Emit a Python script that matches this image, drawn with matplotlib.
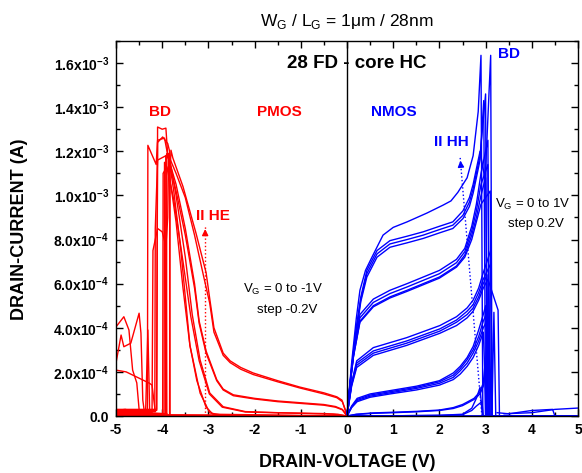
import numpy as np
import matplotlib
matplotlib.use("Agg")
import matplotlib.pyplot as plt
from matplotlib.ticker import MultipleLocator

plt.rcParams['font.family'] = ['Liberation Sans', 'DejaVu Sans']
plt.rcParams['axes.unicode_minus'] = False
plt.rcParams['mathtext.fontset'] = 'custom'
plt.rcParams['mathtext.rm'] = 'Liberation Sans'
plt.rcParams['mathtext.bf'] = 'Liberation Sans:bold'

RED = '#ff0000'
BLUE = '#0000ff'

# ---- NMOS curves (V in volt, I in 1e-4 A) ----
# each curve: drain voltages / currents, tail after breakdown included
nmos_v = [
    # VG = 1.0
    [0, 0.1, 0.2, 0.28, 0.4, 0.54, 0.78, 1.0, 1.3, 1.73, 2.08, 2.25, 2.4, 2.6, 2.73, 2.84, 2.90, 2.94, 5.0],
    [0, 0.1, 0.2, 0.3, 0.43, 0.65, 0.93, 1.3, 1.65, 2.0, 2.29, 2.51, 2.65, 2.73, 2.80, 2.88, 2.99, 3.11, 3.14, 5.0],
    [0, 0.1, 0.2, 0.3, 0.43, 0.65, 0.93, 1.3, 1.65, 2.0, 2.29, 2.51, 2.65, 2.73, 2.80, 2.88, 3.00, 3.03, 5.0],
    [0, 0.1, 0.2, 0.3, 0.43, 0.65, 0.93, 1.3, 1.65, 2.0, 2.29, 2.51, 2.65, 2.73, 2.80, 2.88, 2.96, 3.00, 5.0],
    # VG = 0.8
    [0, 0.07, 0.14, 0.28, 0.57, 0.93, 1.3, 1.65, 2.0, 2.37, 2.55, 2.7, 2.8, 2.9, 3.05, 3.08, 5.0],
    [0, 0.07, 0.14, 0.28, 0.57, 0.93, 1.3, 1.65, 2.0, 2.37, 2.55, 2.7, 2.8, 2.9, 3.05, 3.10, 5.0],
    [0, 0.07, 0.14, 0.28, 0.57, 0.93, 1.3, 1.65, 2.0, 2.37, 2.55, 2.7, 2.8, 2.9, 3.00, 3.06, 5.0],
    [0, 0.07, 0.14, 0.28, 0.57, 0.93, 1.3, 1.65, 2.0, 2.37, 2.55, 2.7, 2.8, 2.9, 3.10, 3.14, 5.0],
    # VG = 0.6
    [0, 0.1, 0.21, 0.57, 1.29, 2.01, 2.37, 2.6, 2.73, 2.85, 2.95, 3.11, 3.14, 5.0],
    [0, 0.1, 0.21, 0.57, 1.29, 2.01, 2.37, 2.6, 2.73, 2.85, 2.95, 3.11, 3.14, 3.18, 3.22, 5.0],
    [0, 0.1, 0.21, 0.57, 1.29, 2.01, 2.37, 2.6, 2.73, 2.85, 2.95, 3.03, 3.05, 5.0],
    [0, 0.1, 0.21, 0.57, 1.29, 2.01, 2.37, 2.6, 2.73, 2.85, 2.95, 3.05, 3.27, 3.3, 5.0],
    # VG = 0.4
    [0, 0.1, 0.22, 0.5, 0.93, 1.5, 2.0, 2.3, 2.45, 2.6, 2.73, 2.85, 2.95, 3.0, 3.03, 5.0],
    [0, 0.1, 0.22, 0.5, 0.93, 1.5, 2.0, 2.3, 2.45, 2.6, 2.73, 2.85, 2.95, 3.05, 3.08, 5.0],
    [0, 0.1, 0.22, 0.5, 0.93, 1.5, 2.0, 2.3, 2.45, 2.6, 2.73, 2.85, 2.95, 3.08, 3.12, 5.0],
    [0, 0.1, 0.22, 0.5, 0.93, 1.5, 2.0, 2.3, 2.45, 2.6, 2.73, 2.85, 2.95, 3.02, 5.0],
    # VG = 0.2
    [0, 0.2, 0.56, 1.0, 1.5, 2.0, 2.3, 2.5, 2.6, 2.75, 2.88, 2.95, 2.98, 3.0, 5.0],
    [0, 0.2, 0.56, 1.0, 1.5, 2.0, 2.3, 2.5, 2.6, 2.75, 2.88, 2.95, 3.0, 3.02, 5.0],
    # VG = 0
    [0, 1.0, 2.0, 2.5, 2.7, 2.8, 2.92, 2.95, 5.0],
    [0, 1.0, 2.0, 2.5, 2.7, 2.8, 2.88, 2.93, 5.0],
]
nmos_i = [
    [0, 2.4, 4.4, 5.7, 6.6, 7.2, 8.2, 8.55, 8.8, 9.2, 9.56, 9.75, 10.14, 10.8, 11.8, 13.8, 16.35, 0.0, 0.0],
    [0, 2.2, 4.0, 5.4, 6.6, 7.5, 7.95, 8.15, 8.35, 8.6, 8.8, 9.3, 9.9, 10.5, 11.2, 12.0, 10.7, 16.35, 0.0, 0.0],
    [0, 2.1, 3.9, 5.3, 6.45, 7.35, 7.8, 8.0, 8.2, 8.45, 8.65, 9.1, 9.7, 10.3, 11.0, 11.8, 14.6, 0.0, 0.0],
    [0, 2.0, 3.8, 5.2, 6.3, 7.2, 7.65, 7.85, 8.05, 8.3, 8.5, 8.95, 9.5, 10.1, 10.8, 11.6, 14.3, 0.0, 0.0],
    [0, 1.6, 2.9, 4.6, 5.3, 5.7, 6.0, 6.3, 6.6, 7.1, 7.6, 8.6, 9.6, 11.0, 12.5, 0.0, 0.0],
    [0, 1.55, 2.8, 4.45, 5.15, 5.55, 5.85, 6.15, 6.45, 6.95, 7.45, 8.4, 9.3, 10.5, 11.4, 0.0, 0.0],
    [0, 1.5, 2.7, 4.3, 5.0, 5.4, 5.7, 6.0, 6.3, 6.8, 7.3, 8.2, 9.0, 10.0, 10.8, 0.0, 0.0],
    [0, 1.5, 2.7, 4.25, 4.95, 5.35, 5.65, 5.95, 6.25, 6.75, 7.2, 8.0, 8.8, 9.6, 10.2, 0.0, 0.0],
    [0, 1.5, 2.5, 3.1, 3.55, 4.1, 4.5, 4.9, 5.25, 5.8, 6.5, 7.5, 0.0, 0.0],
    [0, 1.45, 2.4, 2.95, 3.4, 3.95, 4.35, 4.75, 5.05, 5.6, 6.2, 6.9, 0.3, 4.7, 0.0, 0.0],
    [0, 1.4, 2.3, 2.85, 3.3, 3.85, 4.25, 4.6, 4.9, 5.4, 6.0, 6.4, 0.0, 0.0],
    [0, 1.35, 2.2, 2.75, 3.2, 3.75, 4.1, 4.45, 4.75, 5.25, 5.8, 6.2, 4.8, 0.0, 0.0],
    [0, 0.45, 0.8, 1.0, 1.15, 1.35, 1.6, 1.95, 2.25, 2.65, 3.15, 3.9, 4.6, 5.0, 0.0, 0.0],
    [0, 0.42, 0.75, 0.95, 1.1, 1.3, 1.55, 1.85, 2.15, 2.55, 3.0, 3.6, 4.3, 4.8, 0.0, 0.0],
    [0, 0.4, 0.7, 0.9, 1.05, 1.25, 1.48, 1.75, 2.05, 2.4, 2.85, 3.4, 4.0, 4.5, 0.0, 0.0],
    [0, 0.38, 0.65, 0.85, 1.0, 1.18, 1.4, 1.65, 1.9, 2.25, 2.65, 3.2, 3.8, 0.0, 0.0],
    [0, 0.08, 0.14, 0.17, 0.21, 0.27, 0.38, 0.52, 0.63, 0.8, 1.1, 1.5, 2.2, 0.0, 0.0],
    [0, 0.07, 0.12, 0.15, 0.19, 0.25, 0.34, 0.47, 0.58, 0.75, 1.0, 1.35, 1.9, 0.0, 0.0],
    [0, 0.01, 0.03, 0.06, 0.25, 0.45, 0.65, 0.0, 0.0],
    [0, 0.01, 0.03, 0.08, 0.35, 0.8, 1.3, 0.0, 0.0],
]
# small noisy tails of NMOS after breakdown
ntail_v = [[3.25, 3.5, 4.0, 4.45, 4.5], [3.4, 4.0, 4.5, 5.0]]
ntail_i = [[0.15, 0.1, 0.25, 0.3, 0.0], [0.1, 0.15, 0.3, 0.36]]

# ---- PMOS curves ----
pmos_v = [
    # VG = -1
    [-5, -4.2, -3.84, -3.83, -3.81, -3.77, -3.55, -3.27, -3.05, -2.97, -2.88, -2.68, -2.53, -2.3, -2.03, -1.5, -1.02, -0.5, -0.22, -0.11, -0.04, 0],
    [-5, -3.93, -3.92, -3.88, -3.7, -3.5, -3.3, -3.1, -2.97, -2.88, -2.68, -2.53, -2.3, -2.03, -1.5, -1.02, -0.5, -0.22, -0.1, -0.04, 0],
    # VG = -0.8
    [-5, -4.12, -4.10, -4.0, -3.92, -3.88, -3.7, -3.5, -3.3, -3.2, -3.05, -2.82, -2.68, -2.46, -2.0, -1.5, -1.0, -0.5, -0.25, -0.1, 0],
    [-5, -4.32, -4.31, -4.13, -4.1, -3.95, -3.85, -3.7, -3.5, -3.3, -3.2, -3.05, -2.82, -2.68, -2.46, -2.0, -1.5, -1.0, -0.5, -0.25, -0.1, 0],
    # VG = -0.6
    [-5, -4.22, -4.2, -4.1, -4.0, -3.92, -3.88, -3.86, -3.7, -3.5, -3.35, -3.18, -2.97, -2.68, -2.2, -1.5, -1.0, -0.5, -0.2, 0],
    [-5, -3.99, -3.98, -3.9, -3.75, -3.55, -3.38, -3.2, -2.98, -2.7, -2.2, -1.0, -0.3, 0],
    # VG = -0.4
    [-5, -3.91, -3.90, -3.85, -3.75, -3.6, -3.4, -3.18, -2.97, -2.7, -2.0, 0],
    [-5, -3.96, -3.95, -3.85, -3.7, -3.55, -3.4, -3.25, -3.05, -2.9, 0],
    # VG = -0.2 / 0
    [-5, -4.12, -4.10, -3.99, -3.88, -3.84, -3.83, 0],
    [-5, -4.16, -4.15, -4.1, -3.92, -3.90, 0],
]
pmos_i = [
    [0.05, 0.05, 0.05, 11.0, 12.05, 11.7, 10.4, 8.3, 6.5, 5.3, 4.0, 2.85, 2.5, 2.2, 1.95, 1.6, 1.31, 1.05, 0.87, 0.72, 0.3, 0],
    [0.1, 0.1, 11.8, 11.9, 11.0, 9.9, 8.2, 6.3, 5.1, 3.8, 2.75, 2.42, 2.12, 1.88, 1.55, 1.27, 1.0, 0.83, 0.65, 0.28, 0],
    [0.25, 0.25, 13.1, 13.0, 13.05, 11.8, 10.5, 8.5, 6.0, 4.3, 2.95, 1.65, 1.22, 0.96, 0.8, 0.68, 0.6, 0.52, 0.43, 0.3, 0],
    [0.2, 0.2, 12.27, 11.4, 12.5, 12.6, 11.5, 10.2, 8.2, 5.8, 4.2, 2.85, 1.6, 1.18, 0.92, 0.77, 0.65, 0.57, 0.49, 0.4, 0.28, 0],
    [0.15, 0.15, 7.5, 8.5, 8.35, 7.7, 9.0, 11.9, 10.0, 7.2, 4.6, 2.54, 1.04, 0.42, 0.2, 0.15, 0.13, 0.11, 0.08, 0],
    [0.1, 0.1, 11.0, 11.3, 9.8, 7.0, 4.5, 2.5, 1.0, 0.4, 0.18, 0.12, 0.08, 0],
    [0.05, 0.05, 11.9, 11.6, 10.2, 7.6, 3.2, 1.04, 0.14, 0.04, 0.02, 0],
    [0.05, 0.05, 11.5, 11.0, 8.8, 5.8, 3.2, 1.6, 0.4, 0.08, 0],
    [0.3, 0.3, 12.4, 12.65, 12.35, 12.0, 0.05, 0],
    [0.2, 0.2, 8.5, 11.6, 11.8, 0.05, 0],
]
# noisy PMOS traces beyond breakdown
pnoise_v = [
    [-5, -4.83, -4.72, -4.64, -4.55, -4.5],
    [-5, -4.89, -4.83, -4.68, -4.5, -4.46, -4.42, -4.38],
    [-5, -4.78, -4.28, -4.22, -4.15],
    [-4.36, -4.31, -4.27],
    [-5, -4.8, -4.6, -4.3, -3.9],
]
pnoise_i = [
    [4.04, 4.5, 3.9, 2.08, 1.5, 0.3],
    [2.4, 3.67, 3.14, 3.3, 4.66, 3.76, 0.72, 0.1],
    [2.08, 2.0, 1.49, 1.4, 0.2],
    [0.1, 3.9, 0.1],
    [0.25, 0.3, 0.2, 0.15, 0.1],
]

# arrows (impact ionisation)
he_arrow_v = [-3.07, -3.07]
he_arrow_i = [0.0, 8.6]
hh_arrow_v = [2.92, 2.73, 2.45]
hh_arrow_i = [0.0, 4.7, 11.7]

y_ticks = [0, 2e-4, 4e-4, 6e-4, 8e-4, 1.0e-3, 1.2e-3, 1.4e-3, 1.6e-3]
y_ticklabels = ['0.0', r'2.0x10$^{\mathbf{-4}}$', r'4.0x10$^{\mathbf{-4}}$', r'6.0x10$^{\mathbf{-4}}$',
                r'8.0x10$^{\mathbf{-4}}$', r'1.0x10$^{\mathbf{-3}}$', r'1.2x10$^{\mathbf{-3}}$',
                r'1.4x10$^{\mathbf{-3}}$', r'1.6x10$^{\mathbf{-3}}$']
SCALE = 1e-4

fig = plt.figure(figsize=(5.82, 4.73), dpi=100)
ax = fig.add_axes([116/582, 1-416/473, 462/582, 375/473])

for v, i in zip(pmos_v, pmos_i):
    ax.plot(v, np.array(i)*SCALE, color=RED, lw=1.0)
for v, i in zip(pnoise_v, pnoise_i):
    ax.plot(v, np.array(i)*SCALE, color=RED, lw=1.0)
for v, i in zip(nmos_v, nmos_i):
    ax.plot(v, np.array(i)*SCALE, color=BLUE, lw=1.0)
for v, i in zip(ntail_v, ntail_i):
    ax.plot(v, np.array(i)*SCALE, color=BLUE, lw=1.0)
# thick baselines where many curves overlap
ax.plot([-5, 0], [0, 0], color=RED, lw=2.0, solid_capstyle='butt')
ax.plot([0, 5], [0, 0], color=BLUE, lw=2.0, solid_capstyle='butt')

ax.axvline(0, color='black', lw=1.0)

# dotted arrows
ax.plot(he_arrow_v, np.array(he_arrow_i)*SCALE, color=RED, lw=1.0, ls=':')
ax.annotate('', xy=(he_arrow_v[-1], he_arrow_i[-1]*SCALE), xytext=(he_arrow_v[-1], (he_arrow_i[-1]-0.5)*SCALE),
            arrowprops=dict(arrowstyle='-|>', color=RED, lw=1.0, mutation_scale=9))
ax.plot(hh_arrow_v, np.array(hh_arrow_i)*SCALE, color=BLUE, lw=1.0, ls=':')
ax.annotate('', xy=(hh_arrow_v[-1], hh_arrow_i[-1]*SCALE), xytext=(2.47, 11.2*SCALE),
            arrowprops=dict(arrowstyle='-|>', color=BLUE, lw=1.0, mutation_scale=9))

ax.set_xlim(-5, 5)
ax.set_ylim(0, 1.7e-3)
ax.xaxis.set_major_locator(MultipleLocator(1))
ax.xaxis.set_minor_locator(MultipleLocator(0.5))
ax.set_yticks(y_ticks)
ax.set_yticklabels(y_ticklabels)
ax.yaxis.set_minor_locator(MultipleLocator(1e-4))
ax.tick_params(which='both', direction='in', top=True, right=True, width=1.0, labelsize=10, pad=5)
ax.tick_params(which='major', length=5)
ax.tick_params(which='minor', length=2.8)
for lab in ax.get_xticklabels() + ax.get_yticklabels():
    lab.set_fontweight('bold')
for s in ax.spines.values():
    s.set_linewidth(1.0)

ax.set_xlabel('DRAIN-VOLTAGE (V)', fontsize=13, fontweight='bold', labelpad=12)
fig.text(19.5/582, 1-229/473, 'DRAIN-CURRENT (A)', fontsize=13, fontweight='bold',
         rotation=90, ha='center', va='center')
fig.text(347/582, 1-21/473, r'W$_\mathrm{G}$ / L$_\mathrm{G}$ = 1μm / 28nm', fontsize=12.5,
         ha='center', va='center')

ax.text(0.22, 16.0*SCALE, '28 FD - core HC', fontsize=13.5, fontweight='bold', ha='center', va='center')
ax.text(-4.04, 13.8*SCALE, 'BD', color=RED, fontsize=11, fontweight='bold', ha='center', va='center')
ax.text(-1.465, 13.8*SCALE, 'PMOS', color=RED, fontsize=11, fontweight='bold', ha='center', va='center')
ax.text(1.02, 13.8*SCALE, 'NMOS', color=BLUE, fontsize=11, fontweight='bold', ha='center', va='center')
ax.text(3.50, 16.4*SCALE, 'BD', color=BLUE, fontsize=11, fontweight='bold', ha='center', va='center')
ax.text(2.255, 12.44*SCALE, 'II HH', color=BLUE, fontsize=11, fontweight='bold', ha='center', va='center')
ax.text(-2.894, 9.06*SCALE, 'II HE', color=RED, fontsize=11, fontweight='bold', ha='center', va='center')
ax.text(-1.38, 5.75*SCALE, r'V$_\mathrm{G}$ = 0 to -1V', fontsize=9.5, ha='center', va='center')
ax.text(-1.29, 4.8*SCALE, 'step -0.2V', fontsize=9.5, ha='center', va='center')
ax.text(4.03, 9.6*SCALE, r'V$_\mathrm{G}$ = 0 to 1V', fontsize=9.5, ha='center', va='center')
ax.text(4.09, 8.7*SCALE, 'step 0.2V', fontsize=9.5, ha='center', va='center')

fig.savefig('out.png', dpi=100)
